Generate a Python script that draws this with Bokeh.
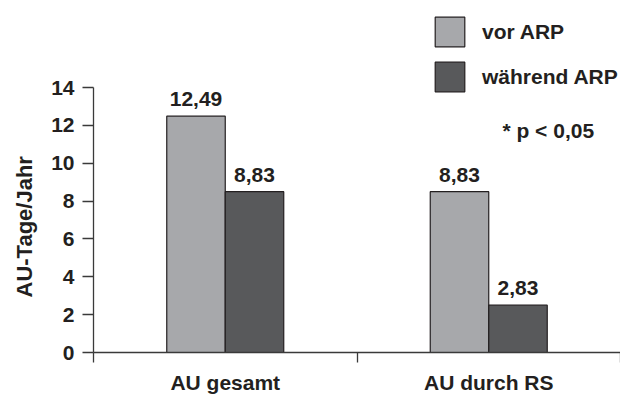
from bokeh.plotting import figure
from bokeh.models import (ColumnDataSource, FixedTicker, Range1d, Legend, LegendItem, Label, Title)
from bokeh.core.properties import value
from bokeh.embed import file_html
from bokeh.resources import INLINE

categories = ["AU gesamt", "AU durch RS"]
series = ["vor ARP", "während ARP"]
vor_heights = [12.49, 8.5]
waehrend_heights = [8.5, 2.5]
vor_labels = ["12,49", "8,83"]
waehrend_labels = ["8,83", "2,83"]
y_ticks = [0, 2, 4, 6, 8, 10, 12, 14]
note = "* p < 0,05"
y_title = "AU-Tage/Jahr"

FONT = "Liberation Sans"
FS = "21px"
TXT = "#231f20"
LIGHT = "#a7a8ab"
DARK = "#58595b"

centers = [i + 0.5 for i in range(len(categories))]
bw = 0.222
off = 0.111

src_vor = ColumnDataSource(dict(x=[c - off for c in centers], top=vor_heights, lab=vor_labels))
src_wae = ColumnDataSource(dict(x=[c + off for c in centers], top=waehrend_heights, lab=waehrend_labels))

p = figure(width=620, height=396, output_backend="svg", toolbar_location=None,
           x_range=Range1d(0, 2), y_range=Range1d(0, 18.6),
           min_border_left=93, min_border_right=0, min_border_top=0, min_border_bottom=44)
p.outline_line_color = None
p.xgrid.grid_line_color = None
p.ygrid.grid_line_color = None
p.background_fill_color = "white"

r1 = p.vbar(x="x", top="top", width=bw, bottom=0, source=src_vor,
            fill_color=LIGHT, line_color=TXT, line_width=1.2)
r2 = p.vbar(x="x", top="top", width=bw, bottom=0, source=src_wae,
            fill_color=DARK, line_color=TXT, line_width=1.2)

for s in (src_vor, src_wae):
    p.text(x="x", y="top", text="lab", source=s, text_align="center", text_baseline="bottom",
           y_offset=-10, text_font=value(FONT), text_font_style="bold",
           text_font_size=FS, text_color=TXT)

# y axis
ya = p.yaxis[0]
ya.ticker = FixedTicker(ticks=y_ticks)
ya.bounds = (0, 14)
ya.major_label_text_font = FONT
ya.major_label_text_font_style = "bold"
ya.major_label_text_font_size = FS
ya.major_label_text_color = TXT
ya.major_label_standoff = 8
ya.major_tick_out = 11
ya.major_tick_in = 0
ya.minor_tick_line_color = None
ya.axis_line_color = "#3a3a3a"
ya.major_tick_line_color = "#3a3a3a"
ya.axis_line_width = 1.3
ya.major_tick_line_width = 1.3

# y axis title (centred on the 0..14 span of the axis)
p.add_layout(Title(text=y_title, align="left", offset=55, vertical_align="top",
                   standoff=20, text_font=FONT, text_font_style="bold",
                   text_font_size="22px", text_color=TXT), "left")

# x axis
xa = p.xaxis[0]
xa.ticker = FixedTicker(ticks=centers, minor_ticks=[0, 1, 2])
xa.major_label_overrides = {c: lab for c, lab in zip(centers, categories)}
xa.major_tick_line_color = None
xa.major_tick_out = 0
xa.major_label_standoff = 8
xa.minor_tick_out = 10
xa.minor_tick_in = 0
xa.minor_tick_line_color = "#3a3a3a"
xa.minor_tick_line_width = 1.3
xa.axis_line_color = "#3a3a3a"
xa.axis_line_width = 1.3
xa.major_label_text_font = FONT
xa.major_label_text_font_style = "bold"
xa.major_label_text_font_size = FS
xa.major_label_text_color = TXT

legend = Legend(items=[LegendItem(label=series[0], renderers=[r1]),
                       LegendItem(label=series[1], renderers=[r2])],
                location=(338, 257), orientation="vertical",
                glyph_width=37, glyph_height=37, spacing=8, label_standoff=14,
                padding=0, margin=0, border_line_color=None, background_fill_alpha=0,
                label_text_font=FONT, label_text_font_style="bold",
                label_text_font_size=FS, label_text_color=TXT)
p.add_layout(legend)

p.add_layout(Label(x=1.552, y=11.75, text=note, text_align="left", text_baseline="middle",
                   text_font=FONT, text_font_style="bold", text_font_size=FS,
                   text_color=TXT))

open("out.html", "w").write(file_html(p, INLINE))
